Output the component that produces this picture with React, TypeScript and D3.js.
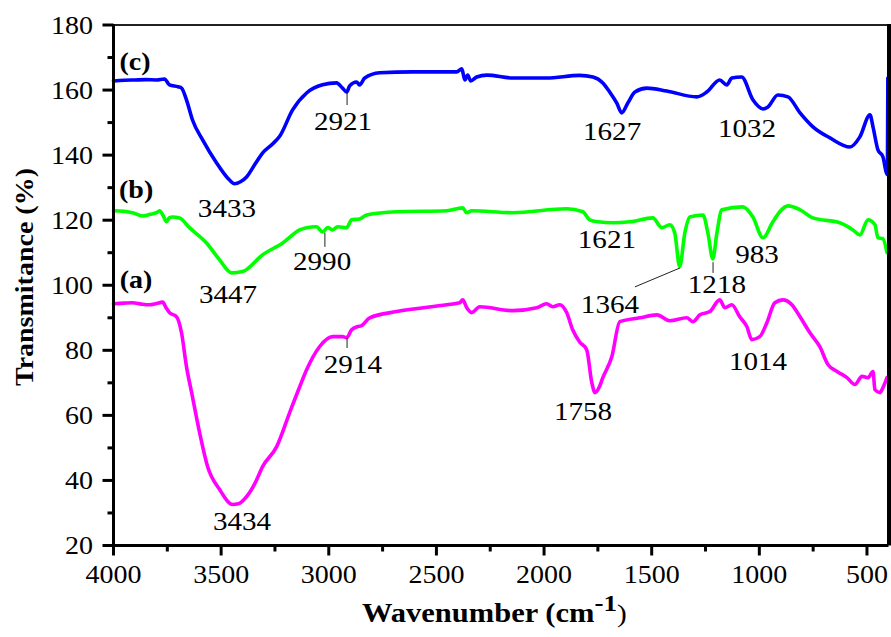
import React from "react";
import * as d3 from "d3";

// ---------- data ----------
const seriesC: [number, number][] = [
  [4000,162.8],[3950,163.0],[3900,163.1],[3850,163.2],[3800,163.1],[3763,163.4],[3740,161.6],[3700,161.0],[3684,160.6],[3661,157],[3633,150.8],[3586,144.7],[3521,137.6],[3470,133],[3438,131.2],[3410,131.8],[3382,133.3],[3340,137.5],[3307,140.7],[3260,143.5],[3228,145.8],[3168,153.9],[3103,159.1],[3029,161.6],[2964,162.2],[2936,160.6],[2917,159.4],[2903,161.3],[2871,162.5],[2857,161.6],[2833,163.7],[2764,165.3],[2610,165.6],[2406,165.6],[2382,166.5],[2368,163.1],[2355,164.6],[2341,162.8],[2313,164],[2266,164.6],[2146,163.7],[1988,163.7],[1834,164.5],[1773,164],[1727,162.2],[1695,159.4],[1662,156],[1639,153],[1611,156],[1578,159.4],[1522,160.6],[1430,159.7],[1290,157.9],[1244,159.4],[1184,163.1],[1151,161.6],[1128,163.7],[1082,164],[1030,157],[983,154.2],[960,154.8],[914,158.5],[867,157.9],[811,153],[751,148.7],[672,145.3],[579,142.5],[533,145.6],[486,152.4],[472,148.7],[449,141.6],[426,139.5],[410,134.6],[405,134],[403,163.7]
];
const seriesB: [number, number][] = [
  [4000,122.9],[3950,122.7],[3912,122.3],[3865,121.3],[3830,121.8],[3800,122.3],[3786,122.9],[3770,121.5],[3754,119.5],[3740,120.8],[3726,121],[3693,120.7],[3647,117.7],[3568,113],[3507,107.8],[3452,103.8],[3400,104.2],[3307,109.4],[3214,113],[3135,117],[3103,117.7],[3057,118],[3029,116.4],[3005,117.7],[2982,117],[2959,118],[2917,117.7],[2894,120.1],[2857,120.4],[2824,121.6],[2685,122.6],[2452,122.9],[2378,123.8],[2359,122.3],[2336,122.9],[2146,122.3],[1895,123.5],[1820,122.6],[1788,120.1],[1750,119.5],[1680,119.2],[1601,119.5],[1495,120.7],[1453,117.7],[1416,118.6],[1393,116.1],[1370,105.7],[1346,116.1],[1323,121],[1262,121.6],[1239,116.1],[1216,108.1],[1197,116.1],[1174,123.2],[1077,124.1],[1030,121],[983,114.6],[937,119.5],[905,122.6],[867,124.4],[811,123.2],[751,120.7],[626,119.2],[565,117],[533,115.5],[495,120.1],[463,118.6],[449,114.6],[426,114.3],[407,110]
];
const seriesA: [number, number][] = [
  [4000,94.3],[3950,94.5],[3912,94.6],[3870,94.2],[3833,94],[3800,94.4],[3772,94.8],[3755,93],[3740,91.6],[3707,90.3],[3684,85.4],[3661,75],[3637,67],[3600,54.7],[3563,44.3],[3507,37.2],[3447,32.6],[3420,32.8],[3382,35],[3340,39.5],[3307,44.3],[3242,50.4],[3182,60.8],[3135,68.8],[3103,74],[3043,81.1],[2982,84.2],[2936,84.2],[2917,83.9],[2894,86.3],[2866,87.3],[2850,87.5],[2810,90],[2685,91.9],[2452,94],[2392,94.6],[2378,95.5],[2359,93.1],[2336,91.6],[2299,93.4],[2146,92.2],[2034,93.1],[1988,94.3],[1960,93.4],[1927,94],[1895,91.6],[1867,86.3],[1834,82.5],[1802,80.2],[1778,70],[1763,67],[1745,68.5],[1727,71.6],[1685,78.1],[1648,88.8],[1555,90],[1476,90.9],[1416,89.1],[1337,90],[1309,88.8],[1276,90.9],[1230,91.9],[1184,95.5],[1160,93.1],[1128,94],[1091,90.3],[1058,87.3],[1035,83.3],[998,84.2],[965,88.5],[928,94.6],[891,95.5],[849,94],[811,90.3],[765,85.4],[719,81.1],[681,75.6],[639,73.5],[593,71.6],[556,69.5],[523,72],[495,71.6],[472,73.5],[463,67.9],[440,67],[426,68.5],[407,71.6]
];

const xTicks = [4000, 3500, 3000, 2500, 2000, 1500, 1000, 500];
const xMinor = [3750, 3250, 2750, 2250, 1750, 1250, 750];
const yTicks = [20, 40, 60, 80, 100, 120, 140, 160, 180];
const yMinor = [30, 50, 70, 90, 110, 130, 150, 170];

// peak labels: text, wavenumber, transmittance (label baseline position)
const peakLabels: [string, number, number][] = [
  ["3433", 3473, 121.0], ["3447", 3468, 94.5], ["3434", 3403, 24.8],
  ["2921", 2934, 147.7], ["2990", 3031, 104.7], ["2914", 2888, 73.0],
  ["1627", 1684, 144.6], ["1032", 1057, 145.6], ["1621", 1708, 111.4],
  ["983", 1011, 106.8], ["1218", 1197, 97.6], ["1364", 1694, 91.5],
  ["1758", 1819, 58.6], ["1014", 1006, 73.9],
];
const sampleLabels: [string, number, number][] = [
  ["(c)", 3900, 166.2], ["(b)", 3895, 126.8], ["(a)", 3895, 99.2],
];
// leader lines: [wn1, t1, wn2, t2]
const leaders: [number, number, number, number][] = [
  [2915, 159.4, 2915, 155.4],
  [3018, 116.1, 3018, 111.8],
  [2915, 83.8, 2915, 80.7],
  [1215, 107.1, 1215, 103.8],
  [1369, 105.3, 1578, 99.5],
];

const W = 891, H = 637;
const L = 113.5, R = 888.5, T = 25, B = 545.5;
const FONT = "Liberation Serif";
const SX = 1.12;

function Txt({ x, y, anchor = "middle", size = 25, bold = false, sx = SX, children }: any) {
  return (
    <text transform={`translate(${x},${y}) scale(${sx},1)`} textAnchor={anchor}
      fontSize={size} fontWeight={bold ? "bold" : "normal"} fontFamily={FONT} fill="#000">
      {children}
    </text>
  );
}

export default function App() {
  const x = d3.scaleLinear().domain([4000, 400]).range([L, R]);
  const y = d3.scaleLinear().domain([20, 180]).range([B, T]);
  const line = d3.line<[number, number]>().x(d => x(d[0])).y(d => y(d[1])).curve(d3.curveMonotoneX);
  const curves: [[number, number][], string][] = [[seriesA, "#ff00ff"], [seriesB, "#00ff00"], [seriesC, "#0000ff"]];
  return (
    <svg width={W} height={H} style={{ position: "absolute", left: 0, top: 0, background: "#fff" }}>
      <rect width={W} height={H} fill="#fff" />
      {curves.map(([d, c], i) => (
        <path key={i} d={line(d) || ""} fill="none" stroke={c} strokeWidth={3.6} strokeLinejoin="round" strokeLinecap="round" />
      ))}
      {leaders.map((l, i) => (
        <line key={i} x1={x(l[0])} y1={y(l[1])} x2={x(l[2])} y2={y(l[3])} stroke="#222" strokeWidth={1} />
      ))}
      {peakLabels.map(([t, wn, v], i) => (
        <Txt key={i} x={x(wn)} y={y(v)} size={26}>{t}</Txt>
      ))}
      {sampleLabels.map(([t, wn, v], i) => (
        <Txt key={i} x={x(wn)} y={y(v)} size={25} bold>{t}</Txt>
      ))}
      {/* frame */}
      <line x1={L} x2={R} y1={T} y2={T} stroke="#222" strokeWidth={2} />
      <line x1={889} x2={889} y1={T - 1} y2={B} stroke="#000" strokeWidth={4} />
      <line x1={L} x2={L} y1={T - 1} y2={B + 1.5} stroke="#000" strokeWidth={3} />
      <line x1={L - 1.5} x2={R} y1={B} y2={B} stroke="#000" strokeWidth={3} />
      {yTicks.map(v => (
        <g key={v}>
          <line x1={L - 11} x2={L} y1={y(v)} y2={y(v)} stroke="#000" strokeWidth={3} />
          <Txt x={93} y={y(v) + 8.5} anchor="end" size={25}>{v}</Txt>
        </g>
      ))}
      {yMinor.map(v => (
        <line key={v} x1={L - 6} x2={L} y1={y(v)} y2={y(v)} stroke="#000" strokeWidth={3} />
      ))}
      {xTicks.map(v => (
        <g key={v}>
          <line x1={x(v)} x2={x(v)} y1={B} y2={B + 10} stroke="#000" strokeWidth={3} />
          <Txt x={x(v)} y={583} size={25}>{v}</Txt>
        </g>
      ))}
      {xMinor.map(v => (
        <line key={v} x1={x(v)} x2={x(v)} y1={B} y2={B + 6} stroke="#000" strokeWidth={3} />
      ))}
      <text transform={`translate(33,277) rotate(-90) scale(${SX},1)`} textAnchor="middle" fontSize={25}
        fontWeight="bold" fontFamily={FONT}>Transmitance (%)</text>
      <text transform={`translate(362,622) scale(1.13,1)`} fontSize={27} fontWeight="bold" fontFamily={FONT}>
        Wavenumber (cm<tspan fontSize={24} dy={-11}>-1</tspan><tspan fontWeight="normal" fontSize={26} dy={11}>)</tspan>
      </text>
    </svg>
  );
}
